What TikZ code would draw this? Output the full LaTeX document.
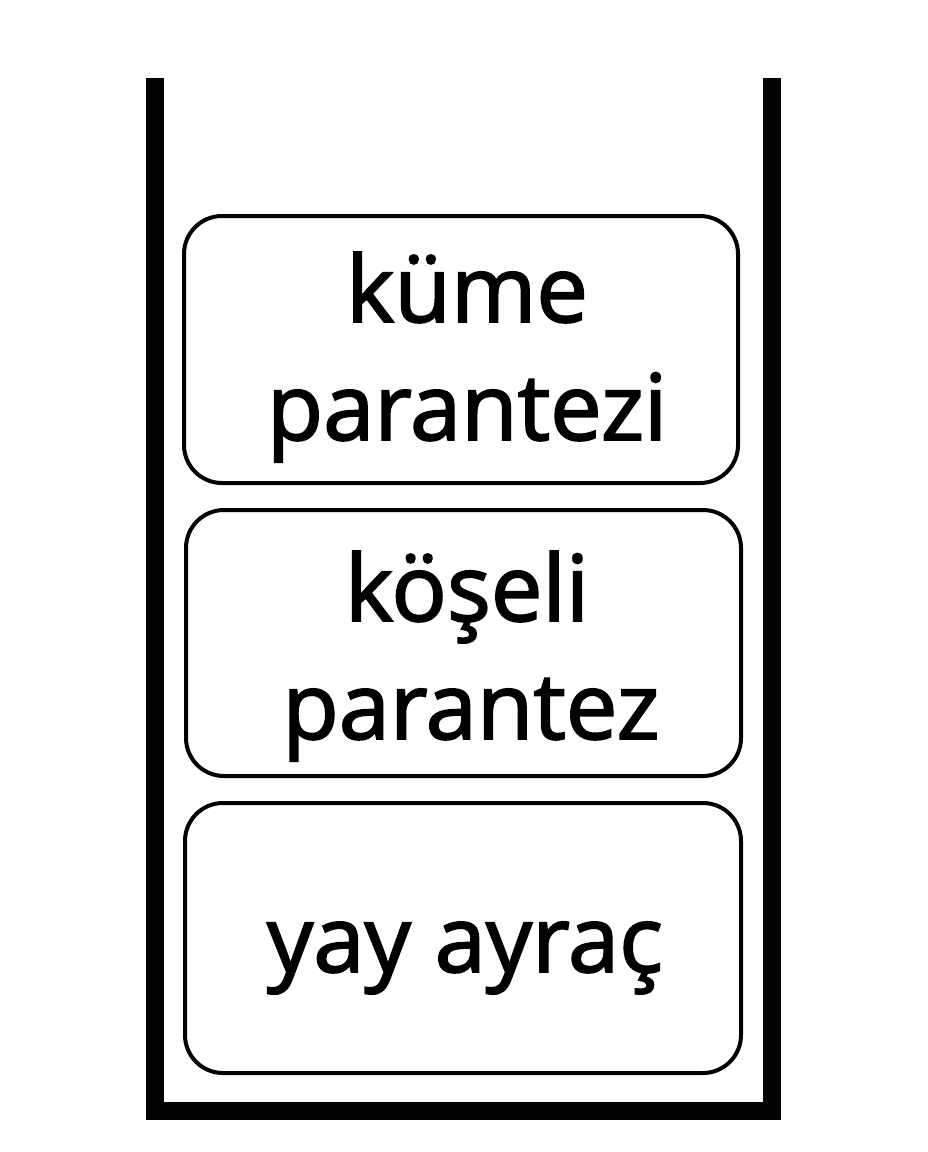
\documentclass[tikz,border=0pt]{standalone}
\usepackage{fontspec}
\setmainfont{Open Sans}[FakeBold=2]
\begin{document}
\begin{tikzpicture}[x=1pt,y=-1pt,
  wall/.style={line width=18pt, line join=miter, line cap=butt},
  box/.style={draw, line width=4pt, rounded corners=38pt, inner sep=0pt, outer sep=0pt},
  lbl/.style={anchor=base, inner sep=0pt, outer sep=0pt, font=\fontsize{92}{110}\selectfont}
]
\useasboundingbox (0,0) rectangle (928,1152);
\coordinate (tl) at (155,78);
\coordinate (bl) at (155,1111);
\coordinate (br) at (772,1111);
\coordinate (tr) at (772,78);
\draw[wall] (tl) -- (bl) -- (br) -- (tr);
\node[box, minimum width=554pt, minimum height=267pt] (box1) at (461,349.5) {};
\node[box, minimum width=555pt, minimum height=266pt] (box2) at (463.5,643) {};
\node[box, minimum width=556pt, minimum height=270pt] (box3) at (463,938) {};
\node[lbl] (t1a) at (467,322) {küme};
\node[lbl] (t1b) at (467,440) {parantezi};
\node[lbl] (t2a) at (467,621) {köşeli};
\node[lbl] (t2b) at (471,739) {parantez};
\node[lbl] (t3) at (465,972) {yay ayraç};
\end{tikzpicture}
\end{document}
